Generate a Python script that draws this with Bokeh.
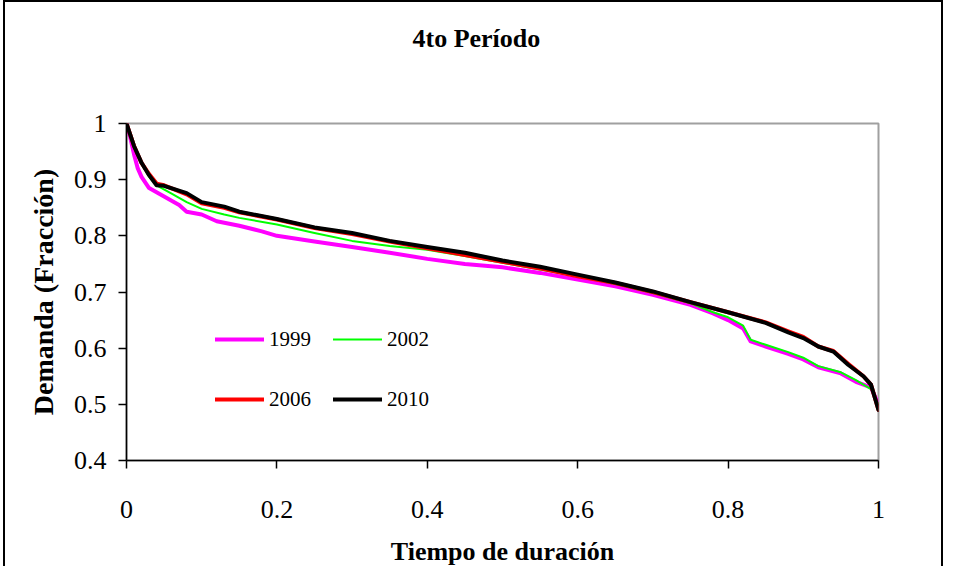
from bokeh.plotting import figure
from bokeh.models import (Legend, LegendItem, FixedTicker, Title, Range1d)
from bokeh.embed import file_html
from bokeh.resources import INLINE

# ---- data ----
x_1999 = [0.0, 0.005, 0.01, 0.015, 0.02, 0.03, 0.05, 0.07, 0.08, 0.10, 0.12, 0.15, 0.18, 0.20, 0.25, 0.30, 0.35, 0.40, 0.45, 0.50, 0.55, 0.60, 0.65, 0.70, 0.75, 0.78, 0.80, 0.82, 0.83, 0.85, 0.88, 0.90, 0.92, 0.95, 0.97, 0.99, 1.0]
y_1999 = [1.0, 0.975, 0.945, 0.92, 0.905, 0.885, 0.870, 0.855, 0.843, 0.838, 0.826, 0.818, 0.808, 0.800, 0.790, 0.780, 0.770, 0.759, 0.750, 0.744, 0.734, 0.722, 0.710, 0.695, 0.677, 0.662, 0.650, 0.635, 0.612, 0.603, 0.590, 0.580, 0.566, 0.555, 0.540, 0.530, 0.500]

x_2002 = [0.0, 0.005, 0.01, 0.02, 0.03, 0.04, 0.06, 0.08, 0.10, 0.13, 0.15, 0.20, 0.25, 0.30, 0.35, 0.40, 0.45, 0.50, 0.55, 0.60, 0.65, 0.70, 0.75, 0.78, 0.80, 0.82, 0.83, 0.85, 0.88, 0.90, 0.92, 0.95, 0.97, 0.99, 1.0]
y_2002 = [1.0, 0.98, 0.96, 0.93, 0.905, 0.890, 0.875, 0.860, 0.848, 0.838, 0.832, 0.820, 0.805, 0.791, 0.782, 0.775, 0.764, 0.752, 0.740, 0.728, 0.714, 0.698, 0.680, 0.664, 0.655, 0.640, 0.615, 0.606, 0.593, 0.583, 0.568, 0.557, 0.543, 0.527, 0.500]

x_2006 = [0.0, 0.005, 0.01, 0.02, 0.03, 0.04, 0.05, 0.08, 0.10, 0.13, 0.15, 0.20, 0.25, 0.30, 0.35, 0.40, 0.45, 0.50, 0.55, 0.60, 0.65, 0.70, 0.75, 0.80, 0.85, 0.88, 0.90, 0.92, 0.94, 0.96, 0.98, 0.99, 1.0]
y_2006 = [1.0, 0.98, 0.96, 0.93, 0.91, 0.893, 0.890, 0.874, 0.858, 0.850, 0.842, 0.829, 0.814, 0.803, 0.790, 0.778, 0.766, 0.754, 0.742, 0.728, 0.716, 0.700, 0.682, 0.664, 0.646, 0.630, 0.620, 0.603, 0.595, 0.572, 0.550, 0.535, 0.490]

x_2010 = [0.0, 0.005, 0.01, 0.02, 0.03, 0.04, 0.05, 0.08, 0.10, 0.13, 0.15, 0.20, 0.25, 0.30, 0.35, 0.40, 0.45, 0.50, 0.55, 0.60, 0.65, 0.70, 0.75, 0.80, 0.85, 0.88, 0.90, 0.92, 0.94, 0.96, 0.98, 0.99, 1.0]
y_2010 = [1.0, 0.98, 0.96, 0.93, 0.908, 0.890, 0.889, 0.876, 0.860, 0.852, 0.843, 0.830, 0.815, 0.805, 0.791, 0.780, 0.770, 0.756, 0.745, 0.731, 0.717, 0.701, 0.682, 0.664, 0.645, 0.628, 0.618, 0.603, 0.594, 0.570, 0.550, 0.535, 0.490]

series_names = ["1999", "2002", "2006", "2010"]
series_colors = ["#FF00FF", "#00FF00", "#FF0000", "#000000"]
series_widths = [4, 2, 4, 4]

x_ticks = [0, 0.2, 0.4, 0.6, 0.8, 1.0]
x_tick_labels = ["0", "0.2", "0.4", "0.6", "0.8", "1"]
y_ticks = [0.4, 0.5, 0.6, 0.7, 0.8, 0.9, 1.0]
y_tick_labels = ["0.4", "0.5", "0.6", "0.7", "0.8", "0.9", "1"]

title_text = "4to Período"
x_title = "Tiempo de duración"
y_title = "Demanda (Fracción)"

FONT = "Liberation Serif"

p = figure(width=940, height=566, output_backend="svg", toolbar_location=None,
           x_range=Range1d(0, 1), y_range=Range1d(0.4, 1.0),
           min_border_left=121, min_border_right=67, min_border_top=121, min_border_bottom=108)
p.toolbar.logo = None
p.styles = {"margin-left": "3px",
            "margin-bottom": "-8px",
            "border-left": "2px solid black",
            "border-top": "2px solid black",
            "border-right": "2px solid black"}

renderers = []
xs = [x_1999, x_2002, x_2006, x_2010]
ys = [y_1999, y_2002, y_2006, y_2010]
for xx, yy, c, w in zip(xs, ys, series_colors, series_widths):
    r = p.line(xx, yy, line_color=c, line_width=w, line_join="round", line_cap="round")
    renderers.append(r)

p.xgrid.visible = False
p.ygrid.visible = False
p.background_fill_color = "white"
p.border_fill_color = "white"
p.outline_line_color = "#a0a0a0"
p.outline_line_width = 2

for ax, ticks, labels in ((p.xaxis[0], x_ticks, x_tick_labels), (p.yaxis[0], y_ticks, y_tick_labels)):
    ax.ticker = FixedTicker(ticks=ticks)
    ax.major_label_overrides = {t: l for t, l in zip(ticks, labels)}
    ax.minor_tick_line_color = None
    ax.major_tick_in = 0
    ax.major_tick_out = 8
    ax.major_tick_line_color = "black"
    ax.major_tick_line_width = 1.5
    ax.axis_line_color = "black"
    ax.axis_line_width = 1.5
    ax.major_label_text_font = FONT
    ax.major_label_text_font_size = "26px"
    ax.major_label_text_color = "black"
    ax.axis_label_text_font = FONT
    ax.axis_label_text_font_style = "bold"
    ax.axis_label_text_color = "black"

p.xaxis.axis_label = x_title
p.yaxis.axis_label = y_title
p.xaxis.axis_label_text_font_size = "26px"
p.yaxis.axis_label_text_font_size = "28px"
p.xaxis.major_label_standoff = 32
p.xaxis.axis_label_standoff = 16
p.yaxis.major_label_standoff = 12
p.yaxis.axis_label_standoff = 12

# spacer between frame and chart title (nearest to the frame)
spacer = Title(text=" ", text_font_size="1px", standoff=66, text_color="white")
p.add_layout(spacer, "above")

p.title.text = title_text
p.title.align = "left"
p.title.offset = 286
p.title.vertical_align = "top"
p.title.standoff = 0
p.title.text_font = FONT
p.title.text_font_size = "26px"
p.title.text_font_style = "bold"
p.title.text_color = "black"

legend = Legend(items=[LegendItem(label=n, renderers=[r]) for n, r in zip(series_names, renderers)],
                location=(89, 42), ncols=2, orientation="horizontal",
                glyph_width=49, glyph_height=20, label_standoff=5, label_height=38,
                spacing=22, padding=0, margin=0,
                label_text_font=FONT, label_text_font_size="21px", label_text_color="black",
                border_line_alpha=0, background_fill_alpha=0)
p.add_layout(legend, "center")

open("out.html", "w").write(file_html(p, INLINE))
